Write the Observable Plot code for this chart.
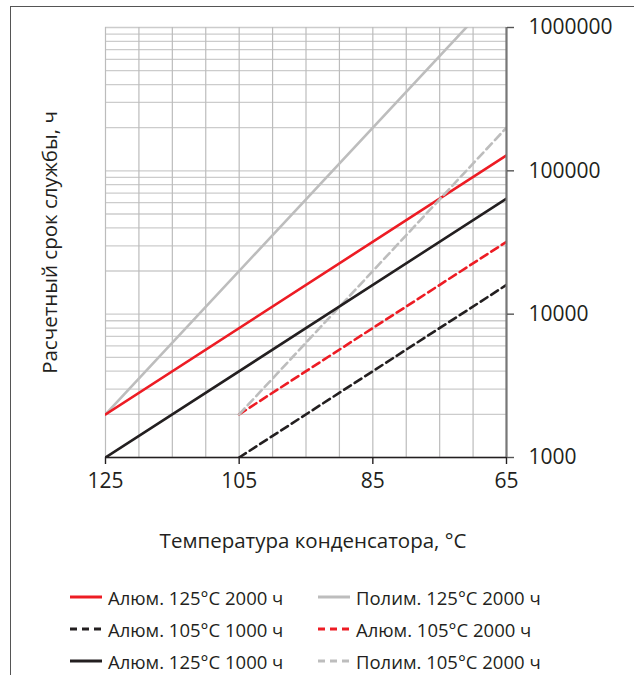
<!DOCTYPE html>
<html>
<head>
<meta charset="utf-8">
<script src="https://cdn.jsdelivr.net/npm/d3@7"></script>
<script src="https://cdn.jsdelivr.net/npm/@observablehq/plot@0.6"></script>
<style>
  html, body { margin: 0; padding: 0; background: #fff; }
  body { width: 634px; height: 675px; position: relative; overflow: hidden; font-family: "Open Sans", sans-serif; color: #231f20; }
  #frame { position: absolute; left: 10px; top: 6px; right: -5px; bottom: -5px; border-left: 1.5px solid #555; border-top: 1.5px solid #555; }
  #chart { position: absolute; left: 0; top: 0; }
  #legend { position: absolute; left: 0; top: 0; width: 634px; height: 675px; pointer-events: none; }
  .item { position: absolute; display: flex; align-items: center; font-size: 18.5px; white-space: nowrap; height: 24px; }
  .item svg { margin-right: 6px; }
</style>
</head>
<body>
<div id="frame"></div>
<div id="chart"></div>
<div id="legend"></div>
<script>
// ---- data ----
const seriesNames = [
  "Алюм. 125°C 2000 ч",
  "Алюм. 105°C 1000 ч",
  "Алюм. 125°C 1000 ч",
  "Полим. 125°C 2000 ч",
  "Алюм. 105°C 2000 ч",
  "Полим. 105°C 2000 ч"
];
const seriesColors = ["#ed1c24", "#231f20", "#231f20", "#bdbdbd", "#ed1c24", "#bdbdbd"];
const seriesDashed = [false, true, false, false, true, true];
const startTemp = [125, 105, 125, 125, 105, 105];
const startLife = [2000, 1000, 1000, 2000, 2000, 2000];
const endTemp = [65, 65, 65, 65, 65, 65];
const endLife = [128000, 16000, 64000, 2000000, 32000, 200000];

const xTicks = [125, 105, 85, 65];
const yTicks = [1000, 10000, 100000, 1000000];
const gridTemps = [125, 120, 115, 110, 105, 100, 95, 90, 85, 80, 75, 70, 65];
const gridLives = [1000,2000,3000,4000,5000,6000,7000,8000,9000,
  10000,20000,30000,40000,50000,60000,70000,80000,90000,
  100000,200000,300000,400000,500000,600000,700000,800000,900000,1000000];
const xLabel = "Температура конденсатора, °C";
const yLabel = "Расчетный срок службы, ч";

// legend placement order (column-major as in reference)
const legendOrder = [0, 1, 2, 3, 4, 5];
// drawing order
const drawOrder = [3, 0, 4, 5, 2, 1];

const rows = [];
for (const i of drawOrder) {
  rows.push({s: seriesNames[i], t: startTemp[i], v: startLife[i], o: i});
  rows.push({s: seriesNames[i], t: endTemp[i], v: endLife[i], o: i});
}

const lineMarks = drawOrder.map(i => Plot.line(rows.filter(r => r.o === i), {
  x: "t", y: "v",
  stroke: seriesColors[i],
  strokeWidth: 2.6,
  strokeDasharray: seriesDashed[i] ? "8,4.5" : null,
  clip: true
}));

const chart = Plot.plot({
  width: 634,
  height: 570,
  marginLeft: 105,
  marginRight: 128,
  marginTop: 27,
  marginBottom: 113,
  style: {fontFamily: "Open Sans, sans-serif", color: "#231f20", background: "transparent", overflow: "visible"},
  x: {domain: [125, 65]},
  y: {type: "log", domain: [1000, 1000000]},
  marks: [
    Plot.ruleY(gridLives, {stroke: "#cccccc", strokeWidth: 1.3}),
    Plot.ruleX(gridTemps, {stroke: "#bcbcbc", strokeWidth: 1.2}),
    ...lineMarks,
    Plot.ruleX([65], {stroke: "#777", strokeWidth: 2.2}),
    Plot.ruleY([1000], {stroke: "#231f20", strokeWidth: 1.4}),
    Plot.axisX(xTicks, {tickSize: 7, tickPadding: 9, fontSize: 21, label: null, stroke: "#231f20", strokeWidth: 1.4, tickFormat: d => String(d)}),
    Plot.axisY(yTicks, {anchor: "right", tickSize: 7, tickPadding: 15, fontSize: 21, label: null, stroke: "#555", strokeWidth: 1.4, tickFormat: d3.format("d")}),
    Plot.text([xLabel], {text: d => d, frameAnchor: "bottom", dy: 90, dx: 7, fontSize: 20.5, fill: "#231f20"}),
    Plot.text([yLabel], {text: d => d, frameAnchor: "left", textAnchor: "middle", rotate: -90, dx: -55, fontSize: 20.5, fill: "#231f20"})
  ]
});
document.getElementById("chart").appendChild(chart);

// ---- legend ----
const legend = document.getElementById("legend");
const colLineX = [70, 318];
const rowY = [597, 629, 661];
legendOrder.forEach((i, k) => {
  const col = Math.floor(k / 3), row = k % 3;
  const div = document.createElement("div");
  div.className = "item";
  div.style.left = colLineX[col] + "px";
  div.style.top = (rowY[row] - 12) + "px";
  const ns = "http://www.w3.org/2000/svg";
  const svg = document.createElementNS(ns, "svg");
  svg.setAttribute("width", 32); svg.setAttribute("height", 6);
  const ln = document.createElementNS(ns, "line");
  ln.setAttribute("x1", 0); ln.setAttribute("x2", 32);
  ln.setAttribute("y1", 3); ln.setAttribute("y2", 3);
  ln.setAttribute("stroke", seriesColors[i]);
  ln.setAttribute("stroke-width", 3);
  if (seriesDashed[i]) ln.setAttribute("stroke-dasharray", "7,5");
  svg.appendChild(ln);
  div.appendChild(svg);
  const span = document.createElement("span");
  span.textContent = seriesNames[i];
  div.appendChild(span);
  legend.appendChild(div);
});
</script>
</body>
</html>
